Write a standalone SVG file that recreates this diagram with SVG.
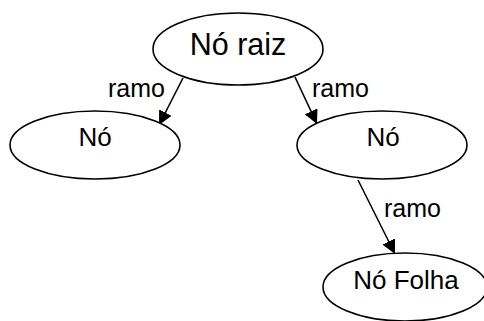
<svg xmlns="http://www.w3.org/2000/svg" width="484" height="321" viewBox="0 0 484 321">
  <style>
    .node ellipse { fill: #ffffff; stroke: #000000; stroke-width: 1.6; }
    .node text { font-family: "Liberation Sans", Arial, sans-serif; fill: #000000; text-anchor: middle; }
    .edge line { stroke: #000000; stroke-width: 1.6; marker-end: url(#arrow); }
    .edge text { font-family: "Liberation Sans", Arial, sans-serif; font-size: 25px; fill: #000000; }
  </style>
  <defs>
    <marker id="arrow" markerUnits="userSpaceOnUse" markerWidth="15" markerHeight="14" refX="14" refY="7" orient="auto">
      <path d="M0,0 L14,7 L0,14 z" fill="#000000"/>
    </marker>
  </defs>
  <rect width="484" height="321" fill="#ffffff"/>

  <!-- connectors -->
  <g id="edges">
    <g class="edge" id="e-root-left">
      <line x1="183" y1="78" x2="159" y2="125"/>
      <text x="108" y="97">ramo</text>
    </g>
    <g class="edge" id="e-root-right">
      <line x1="295" y1="77" x2="317" y2="124"/>
      <text x="312" y="97">ramo</text>
    </g>
    <g class="edge" id="e-right-leaf">
      <line x1="358" y1="180" x2="395" y2="254"/>
      <text x="384" y="217">ramo</text>
    </g>
  </g>

  <!-- nodes -->
  <g class="node" id="n-root">
    <ellipse cx="238" cy="49" rx="85" ry="36"/>
    <text x="238" y="55" font-size="30.5">Nó raiz</text>
  </g>
  <g class="node" id="n-left">
    <ellipse cx="95" cy="145" rx="85" ry="34"/>
    <text x="95" y="146" font-size="26">Nó</text>
  </g>
  <g class="node" id="n-right">
    <ellipse cx="382" cy="145" rx="85" ry="34"/>
    <text x="383" y="146" font-size="26">Nó</text>
  </g>
  <g class="node" id="n-leaf">
    <ellipse cx="405" cy="287" rx="82" ry="34"/>
    <text x="406" y="289" font-size="26">Nó Folha</text>
  </g>
</svg>
